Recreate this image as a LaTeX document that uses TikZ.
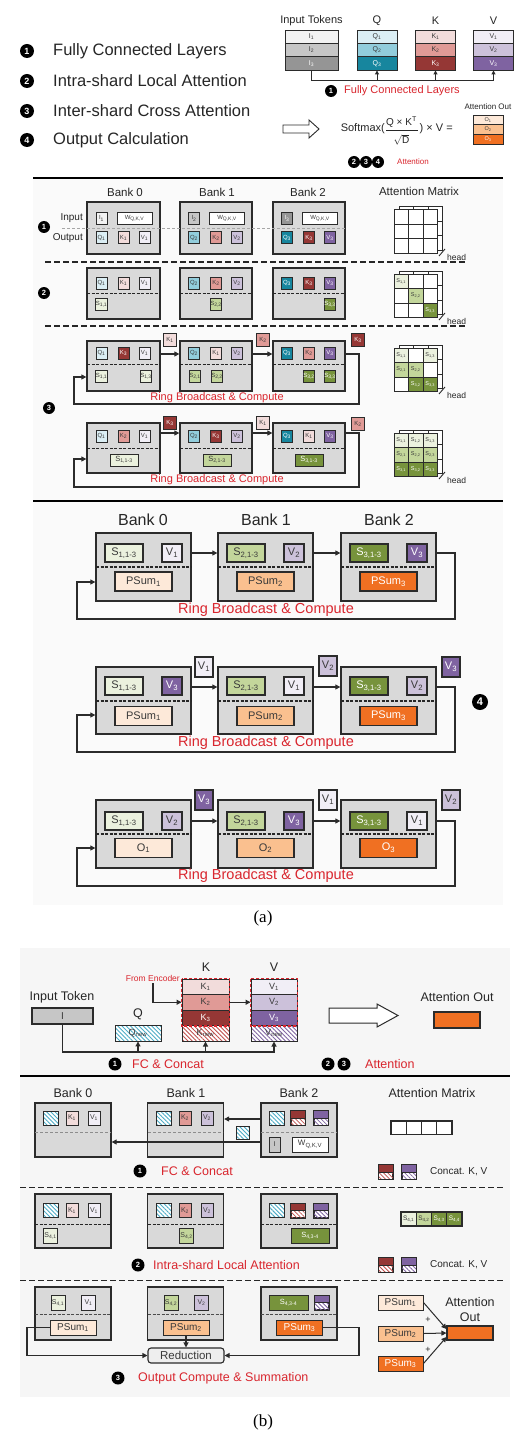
\documentclass[tikz,border=0pt]{standalone}
\usepackage{fontspec}
\usepackage{amsmath}
\setmainfont{Liberation Sans}
\newfontfamily\capfont{Liberation Serif}
\usetikzlibrary{arrows.meta,patterns.meta}
\newcommand\fsz[1]{\fontsize{#1}{#1}\selectfont}
\newcommand\sbs[1]{\textsubscript{#1}}
\definecolor{bdr}{HTML}{2B2B2B}
\definecolor{bankf}{HTML}{D9D9D9}
\definecolor{txtd}{HTML}{3A3A3A}
\definecolor{redt}{HTML}{D9262E}
\definecolor{iA}{HTML}{F2F2F2}
\definecolor{iB}{HTML}{C6C6C6}
\definecolor{iC}{HTML}{959595}
\definecolor{qA}{HTML}{DBEEF4}
\definecolor{qB}{HTML}{92CDDC}
\definecolor{qC}{HTML}{17869E}
\definecolor{kA}{HTML}{F2DCDB}
\definecolor{kB}{HTML}{E09A96}
\definecolor{kC}{HTML}{953735}
\definecolor{vA}{HTML}{F1EEF6}
\definecolor{vB}{HTML}{CCC1DA}
\definecolor{vC}{HTML}{7F63A1}
\definecolor{sA}{HTML}{EBF1DE}
\definecolor{sB}{HTML}{C3D69B}
\definecolor{sC}{HTML}{77933C}
\definecolor{pA}{HTML}{FDE9D9}
\definecolor{pB}{HTML}{FAC08F}
\definecolor{pC}{HTML}{F07022}
\definecolor{hq}{HTML}{4BACC6}
\definecolor{hk}{HTML}{C0504D}
\definecolor{hv}{HTML}{8064A2}
\definecolor{redf}{HTML}{EEEEEE}
\definecolor{bbg}{HTML}{F6F6F6}
\definecolor{abg}{HTML}{FAFAFA}
\tikzset{
  bank/.style={draw=bdr, fill=bankf, line width=1.3pt, inner sep=0pt},
  el/.style={draw=bdr, line width=1pt, minimum width=11pt, minimum height=12pt, inner sep=0pt, text=txtd, font=\fsz{6}},
  fk/.style={el, minimum width=13pt, minimum height=13pt},
  wel/.style={el, minimum width=28pt, font=\fsz{7.5}},
  bel/.style={el, line width=1.2pt, minimum width=38pt, minimum height=18pt, font=\fsz{11}},
  bv/.style={bel, minimum width=20pt},
  bp/.style={bel, minimum width=57pt, minimum height=19pt},
  fv/.style={bel, minimum width=18pt, minimum height=20pt},
  bk/.style={el, minimum width=12pt, minimum height=14pt, font=\fsz{7}},
  stk/.style={draw=bdr, line width=0.9pt, minimum height=13.33pt, inner sep=0pt, font=\fsz{7}, text=txtd},
  bstk/.style={draw=bdr, line width=0.9pt, minimum height=15.5pt, inner sep=0pt, font=\fsz{9}, text=txtd},
  cell/.style={draw=bdr, line width=1pt, fill=white, minimum width=14.5pt, minimum height=14.5pt, inner sep=0pt, font=\fsz{5.5}, text=txtd},
  numc/.style={circle, fill=black, text=white, inner sep=0pt, minimum size=14pt, font=\fsz{9}\bfseries},
  nums/.style={numc, minimum size=12pt, font=\fsz{7.5}\bfseries},
  arr/.style={draw=bdr, line width=1.1pt, -{Triangle[length=5pt,width=5pt]}},
  tarr/.style={draw=bdr, line width=0.9pt, -{Triangle[length=4pt,width=4pt]}},
  cline/.style={draw=bdr, line width=1.1pt},
  thicksep/.style={draw=black, line width=2.2pt},
  dsep/.style={draw=black!85, line width=1.2pt, dash pattern=on 6pt off 3pt},
  idash/.style={draw=black!85, line width=1pt, dash pattern=on 3pt off 1.5pt},
  gdash/.style={draw=black!35, line width=0.8pt, dash pattern=on 3pt off 2pt},
  redtxt/.style={text=redt, inner sep=0pt},
  txt/.style={inner sep=0pt, text=black!85},
  hatch/.style={draw=bdr, line width=1pt, inner sep=0pt, text=txtd, preaction={fill=white}, pattern={Lines[angle=-45,distance=3pt,line width=0.9pt]}, pattern color=#1},
}
\newcommand\amat[3]{%
  \foreach \ri in {0,1,2}{\foreach \ci in {0,1,2}{%
    \draw[draw=bdr, line width=1pt, fill=white] ({#2+5+\ci*14.5},{#3-3+\ri*14.5}) rectangle ++(14.5,14.5);}}%
  \foreach \ri in {0,1,2}{\foreach \ci in {0,1,2}{%
    \node[cell] (#1-\ri-\ci) at ({#2+7.25+\ci*14.5},{#3+7.25+\ri*14.5}) {};}}%
  \draw[draw=bdr, line width=0.9pt] ({#2+45},{#3+46}) -- ({#2+51},{#3+39});%
  \node[txt, anchor=west, font=\fsz{8.5}] (#1h) at ({#2+53},{#3+47.5}) {head};%
}
\newcommand\cicon[5]{%
  \node[draw=bdr, line width=1pt, fill=white, minimum width=14pt, minimum height=14pt, inner sep=0pt] (#1) at (#2,#3) {};
  \fill[#4] (#1.north west) rectangle (#1.east);
  \fill[pattern={Lines[angle=-45,distance=3pt,line width=0.8pt]}, pattern color=#5] (#1.west) rectangle (#1.south east);
  \draw[draw=bdr, line width=0.8pt] (#1.west) -- (#1.east);
  \draw[draw=bdr, line width=1pt] (#1.north west) rectangle (#1.south east);
}
\begin{document}
\begin{tikzpicture}[x=1pt,y=-1pt]
\useasboundingbox (0,0) rectangle (528,1447);
\fill[white] (0,0) rectangle (528,1447);
\fill[abg] (33,178) rectangle (503,905);
\fill[bbg] (20,948) rectangle (510,1397);

% ---------------- legend
\node[numc] (n1) at (27,51) {1};
\node[txt, anchor=west, font=\fsz{16.5}] (t1) at (53,51) {Fully Connected Layers};
\node[numc] (n2) at (27,81) {2};
\node[txt, anchor=west, font=\fsz{16.5}] (t2) at (53,81) {Intra-shard Local Attention};
\node[numc] (n3) at (27,111) {3};
\node[txt, anchor=west, font=\fsz{16.5}] (t3) at (53,111) {Inter-shard Cross Attention};
\node[numc] (n4) at (27,140) {4};
\node[txt, anchor=west, font=\fsz{16.5}] (t4) at (53,140) {Output Calculation};

% ---------------- top right
\node[txt, font=\fsz{11}] (hIT) at (311.5,21) {Input Tokens};
\node[txt, font=\fsz{11}] (hQ) at (377,21) {Q};
\node[txt, font=\fsz{11}] (hK) at (435.5,21) {K};
\node[txt, font=\fsz{11}] (hV) at (493.5,21) {V};
\node[stk, minimum width=53pt, fill=iA] (ti1) at (311.5,36.67) {I\sbs{1}};
\node[stk, minimum width=53pt, fill=iB] (ti2) at (311.5,50) {I\sbs{2}};
\node[stk, minimum width=53pt, fill=iC, text=white] (ti3) at (311.5,63.33) {I\sbs{3}};
\node[stk, minimum width=40pt, fill=qA] (tq1) at (377,36.67) {Q\sbs{1}};
\node[stk, minimum width=40pt, fill=qB] (tq2) at (377,50) {Q\sbs{2}};
\node[stk, minimum width=40pt, fill=qC, text=white] (tq3) at (377,63.33) {Q\sbs{3}};
\node[stk, minimum width=40pt, fill=kA] (tk1) at (435.5,36.67) {K\sbs{1}};
\node[stk, minimum width=40pt, fill=kB] (tk2) at (435.5,50) {K\sbs{2}};
\node[stk, minimum width=40pt, fill=kC, text=white] (tk3) at (435.5,63.33) {K\sbs{3}};
\node[stk, minimum width=40pt, fill=vA] (tv1) at (493.5,36.67) {V\sbs{1}};
\node[stk, minimum width=40pt, fill=vB] (tv2) at (493.5,50) {V\sbs{2}};
\node[stk, minimum width=40pt, fill=vC, text=white] (tv3) at (493.5,63.33) {V\sbs{3}};
\coordinate (tbus) at (0,80);
\draw[tarr] (ti3.south) |- (tv3.south |- tbus) -- (tv3.south);
\draw[tarr] (tq3.south |- tbus) -- (tq3.south);
\draw[tarr] (tk3.south |- tbus) -- (tk3.south);
\node[nums] (tn1) at (331,91) {1};
\node[redtxt, anchor=west, font=\fsz{11}] (tfc) at (344,91) {Fully Connected Layers};
\draw[draw=bdr, line width=0.9pt, fill=white] (283,125) -- (309,125) -- (309,120) -- (319,129) -- (309,138) -- (309,133) -- (283,133) -- cycle;
% formula built from separate parts
\node[txt, anchor=east, font=\fsz{11}] (fsm) at (385,129) {Softmax(};
\node[txt, font=\fsz{10}] (fnum) at (401.5,122) {Q × K\textsuperscript{T}};
\draw[draw=black!85, line width=0.7pt] (386,130.5) -- (418,130.5);
\node[txt, font=\fsz{10}] (fden) at (401.5,139.5) {$\sqrt{\text{D}}$};
\node[txt, anchor=west, font=\fsz{11}] (frest) at (419.5,129) {) × V =};
\node[txt, font=\fsz{8}] (tAO) at (488,107) {Attention Out};
\node[stk, minimum width=30pt, minimum height=9.67pt, fill=pA, font=\fsz{5.5}] (to1) at (488,119.8) {O\sbs{1}};
\node[stk, minimum width=30pt, minimum height=9.67pt, fill=pB, font=\fsz{5.5}] (to2) at (488,129.5) {O\sbs{2}};
\node[stk, minimum width=30pt, minimum height=9.67pt, fill=pC, text=white, font=\fsz{5.5}] (to3) at (488,139.2) {O\sbs{3}};
\node[nums, minimum size=12pt] (tn2) at (354,162) {2};
\node[nums, minimum size=12pt] (tn3) at (366,162) {3};
\node[nums, minimum size=12pt] (tn4) at (378,162) {4};
\node[redtxt, font=\fsz{8}] (tatt) at (413,162) {Attention};

\draw[thicksep] (33,178) -- (503,178);

% ---------------- (a) section 1
\node[txt, font=\fsz{11.5}] (hB0) at (125,192) {Bank 0};
\node[txt, font=\fsz{11.5}] (hB1) at (217,192) {Bank 1};
\node[txt, font=\fsz{11.5}] (hB2) at (308,192) {Bank 2};
\node[txt, font=\fsz{11.5}] (hAM) at (419,191) {Attention Matrix};
\node[bank, minimum width=73pt, minimum height=52pt] (s1b0) at (123.5,228) {};
\node[bank, minimum width=72pt, minimum height=52pt] (s1b1) at (216,228) {};
\node[bank, minimum width=72pt, minimum height=52pt] (s1b2) at (309,228) {};
\draw[gdash] (62,228) -- (345,228);
\node[txt, anchor=east, font=\fsz{10}] (lin) at (83,218) {Input};
\node[txt, anchor=east, font=\fsz{10}] (lout) at (83,238) {Output};
\node[nums] (s1n) at (44,227) {1};
\node[el, fill=iA] (s1i1) at (101.5,218.5) {I\sbs{1}};
\node[el, fill=white, minimum width=35pt] (s1w0) at (134.5,218.5) {W\sbs{Q,K,V}};
\node[el, fill=qA] (s1q1) at (101.5,238) {Q\sbs{1}};
\node[el, fill=kA] (s1k1) at (123.5,238) {K\sbs{1}};
\node[el, fill=vA] (s1v1) at (144.5,238) {V\sbs{1}};
\node[el, fill=iB] (s1i2) at (194,218.5) {I\sbs{2}};
\node[el, fill=white, minimum width=35pt] (s1w1) at (227,218.5) {W\sbs{Q,K,V}};
\node[el, fill=qB] (s1q2) at (194,238) {Q\sbs{2}};
\node[el, fill=kB] (s1k2) at (216,238) {K\sbs{2}};
\node[el, fill=vB] (s1v2) at (237,238) {V\sbs{2}};
\node[el, fill=iC, text=white] (s1i3) at (287,218.5) {I\sbs{3}};
\node[el, fill=white, minimum width=35pt] (s1w2) at (320,218.5) {W\sbs{Q,K,V}};
\node[el, fill=qC, text=white] (s1q3) at (287,238) {Q\sbs{3}};
\node[el, fill=kC, text=white] (s1k3) at (309,238) {K\sbs{3}};
\node[el, fill=vC, text=white] (s1v3) at (330,238) {V\sbs{3}};
\amat{m1}{394}{210}
\draw[dsep] (45,262) -- (465,262);

% ---------------- (a) section 2
\node[bank, minimum width=73pt, minimum height=51pt] (s2b0) at (123.5,293.5) {};
\node[bank, minimum width=72pt, minimum height=51pt] (s2b1) at (216,293.5) {};
\node[bank, minimum width=72pt, minimum height=51pt] (s2b2) at (309,293.5) {};
\draw[idash] (87,293) -- (160,293);
\draw[idash] (180,293) -- (252,293);
\draw[idash] (273,293) -- (345,293);
\node[nums] (s2n) at (44,293) {2};
\node[el, fill=qA] (s2q1) at (101.5,283) {Q\sbs{1}};
\node[el, fill=kA] (s2k1) at (123.5,283) {K\sbs{1}};
\node[el, fill=vA] (s2v1) at (144.5,283) {V\sbs{1}};
\node[el, fill=qB] (s2q2) at (194,283) {Q\sbs{2}};
\node[el, fill=kB] (s2k2) at (216,283) {K\sbs{2}};
\node[el, fill=vB] (s2v2) at (237,283) {V\sbs{2}};
\node[el, fill=qC, text=white] (s2q3) at (287,283) {Q\sbs{3}};
\node[el, fill=kC, text=white] (s2k3) at (309,283) {K\sbs{3}};
\node[el, fill=vC, text=white] (s2v3) at (330,283) {V\sbs{3}};
\node[el, fill=sA] (s2s11) at (101.5,304) {S\sbs{1,1}};
\node[el, fill=sB] (s2s22) at (216,304) {S\sbs{2,2}};
\node[el, fill=sC, text=white] (s2s33) at (330,304) {S\sbs{3,3}};
\amat{m2}{394}{274}
\foreach \ri/\ci/\cfill/\ctext/\clab in {0/0/sA/txtd/{S\sbs{1,1}},1/1/sB/txtd/{S\sbs{2,2}},2/2/sC/white/{S\sbs{3,3}}}
  \node[cell, fill=\cfill, text=\ctext] (m2c-\ri-\ci) at ({394+7.25+\ci*14.5},{274+7.25+\ri*14.5}) {\clab};
\draw[dsep] (45,326) -- (465,326);

% ---------------- (a) section 3, row A
\node[bank, minimum width=73pt, minimum height=50pt] (a3b0) at (123.5,366) {};
\node[bank, minimum width=72pt, minimum height=50pt] (a3b1) at (216,366) {};
\node[bank, minimum width=72pt, minimum height=50pt] (a3b2) at (309,366) {};
\draw[idash] (87,364) -- (160,364);
\draw[idash] (180,364) -- (252,364);
\draw[idash] (273,364) -- (345,364);
\node[el, fill=qA] (a3q1) at (101.5,353) {Q\sbs{1}};
\node[el, fill=kC, text=white] (a3k3) at (123.5,353) {K\sbs{3}};
\node[el, fill=vA] (a3v1) at (144.5,353) {V\sbs{1}};
\node[el, fill=qB] (a3q2) at (194,353) {Q\sbs{2}};
\node[el, fill=kA] (a3k1) at (216,353) {K\sbs{1}};
\node[el, fill=vB] (a3v2) at (237,353) {V\sbs{2}};
\node[el, fill=qC, text=white] (a3q3) at (287,353) {Q\sbs{3}};
\node[el, fill=kB] (a3k2) at (309,353) {K\sbs{2}};
\node[el, fill=vC, text=white] (a3v3) at (330,353) {V\sbs{3}};
\node[el, fill=sA] (a3s11) at (101.5,376) {S\sbs{1,1}};
\node[el, fill=sA] (a3s13) at (146,376) {S\sbs{1,3}};
\node[el, fill=sB] (a3s21) at (195,376) {S\sbs{2,1}};
\node[el, fill=sB] (a3s22) at (217,376) {S\sbs{2,2}};
\node[el, fill=sC, text=white] (a3s32) at (309,376) {S\sbs{3,2}};
\node[el, fill=sC, text=white] (a3s33) at (330,376) {S\sbs{3,3}};
\node[fk, fill=kA] (a3f1) at (170,340) {K\sbs{1}};
\node[fk, fill=kB] (a3f2) at (263,340) {K\sbs{2}};
\node[fk, fill=kC, text=white] (a3f3) at (358,340) {K\sbs{3}};
\draw[arr] (a3b0.east |- 0,354) -- (a3b1.west |- 0,354);
\draw[arr] (a3b1.east |- 0,354) -- (a3b2.west |- 0,354);
\draw[arr] (a3b2.east |- 0,354) -| (359,404) -| (74,377) -- (a3b0.west |- 0,377);
\node[redtxt, font=\fsz{11}] (a3r) at (217,397.5) {Ring Broadcast \& Compute};
\node[nums] (s3n) at (49,408) {3};
\amat{m3}{394}{348}
\foreach \ri/\ci/\cfill/\ctext/\clab in {0/0/sA/txtd/{S\sbs{1,1}},0/2/sA/txtd/{S\sbs{1,3}},1/0/sB/txtd/{S\sbs{2,1}},1/1/sB/txtd/{S\sbs{2,2}},2/1/sC/white/{S\sbs{3,2}},2/2/sC/white/{S\sbs{3,3}}}
  \node[cell, fill=\cfill, text=\ctext] (m3c-\ri-\ci) at ({394+7.25+\ci*14.5},{348+7.25+\ri*14.5}) {\clab};

% ---------------- (a) section 3, row B
\node[bank, minimum width=73pt, minimum height=50pt] (b3b0) at (123.5,448) {};
\node[bank, minimum width=72pt, minimum height=50pt] (b3b1) at (216,448) {};
\node[bank, minimum width=72pt, minimum height=50pt] (b3b2) at (309,448) {};
\draw[idash] (87,448) -- (160,448);
\draw[idash] (180,448) -- (252,448);
\draw[idash] (273,448) -- (345,448);
\node[el, fill=qA] (b3q1) at (101.5,436) {Q\sbs{1}};
\node[el, fill=kB] (b3k2) at (123.5,436) {K\sbs{2}};
\node[el, fill=vA] (b3v1) at (144.5,436) {V\sbs{1}};
\node[el, fill=qB] (b3q2) at (194,436) {Q\sbs{2}};
\node[el, fill=kC, text=white] (b3k3) at (216,436) {K\sbs{3}};
\node[el, fill=vB] (b3v2) at (237,436) {V\sbs{2}};
\node[el, fill=qC, text=white] (b3q3) at (287,436) {Q\sbs{3}};
\node[el, fill=kA] (b3k1) at (309,436) {K\sbs{1}};
\node[el, fill=vC, text=white] (b3v3) at (330,436) {V\sbs{3}};
\node[wel, fill=sA] (b3s1) at (124,460) {S\sbs{1,1-3}};
\node[wel, fill=sB] (b3s2) at (217,460) {S\sbs{2,1-3}};
\node[wel, fill=sC, text=white] (b3s3) at (309,460) {S\sbs{3,1-3}};
\node[fk, fill=kC, text=white] (b3f1) at (170,423) {K\sbs{3}};
\node[fk, fill=kA] (b3f2) at (263,423) {K\sbs{1}};
\node[fk, fill=kB] (b3f3) at (358,424) {K\sbs{2}};
\draw[arr] (b3b0.east |- 0,433) -- (b3b1.west |- 0,433);
\draw[arr] (b3b1.east |- 0,433) -- (b3b2.west |- 0,433);
\draw[arr] (b3b2.east |- 0,433) -| (359,487) -| (74,459) -- (b3b0.west |- 0,459);
\node[redtxt, font=\fsz{11}] (b3r) at (217,480) {Ring Broadcast \& Compute};
\amat{m4}{394}{433}
\foreach \ri/\ci/\cfill/\ctext/\clab in {0/0/sA/txtd/{S\sbs{1,1}},0/1/sA/txtd/{S\sbs{1,2}},0/2/sA/txtd/{S\sbs{1,3}},1/0/sB/txtd/{S\sbs{2,1}},1/1/sB/txtd/{S\sbs{2,2}},1/2/sB/txtd/{S\sbs{2,3}},2/0/sC/white/{S\sbs{3,1}},2/1/sC/white/{S\sbs{3,2}},2/2/sC/white/{S\sbs{3,3}}}
  \node[cell, fill=\cfill, text=\ctext] (m4c-\ri-\ci) at ({394+7.25+\ci*14.5},{433+7.25+\ri*14.5}) {\clab};

\draw[thicksep] (33,501) -- (503,501);

% ---------------- (a) section 4, block A
\node[txt, font=\fsz{16}] (gB0) at (143,520) {Bank 0};
\node[txt, font=\fsz{16}] (gB1) at (266,520) {Bank 1};
\node[txt, font=\fsz{16}] (gB2) at (389,520) {Bank 2};
\node[bank, minimum width=95pt, minimum height=68pt] (g1b0) at (143.5,567) {};
\node[bank, minimum width=95pt, minimum height=68pt] (g1b1) at (265.5,567) {};
\node[bank, minimum width=95pt, minimum height=68pt] (g1b2) at (388.5,567) {};
\draw[idash, line width=1.2pt] (96,567) -- (191,567);
\draw[idash, line width=1.2pt] (218,567) -- (313,567);
\draw[idash, line width=1.2pt] (341,567) -- (436,567);
\node[bel, fill=sA] (g1s1) at (124,553) {S\sbs{1,1-3}};
\node[bv, fill=vA] (g1v1) at (172,553) {V\sbs{1}};
\node[bp, fill=pA] (g1p1) at (143.5,581.5) {PSum\sbs{1}};
\node[bel, fill=sB] (g1s2) at (246,553) {S\sbs{2,1-3}};
\node[bv, fill=vB] (g1v2) at (294,553) {V\sbs{2}};
\node[bp, fill=pB] (g1p2) at (265.5,581.5) {PSum\sbs{2}};
\node[bel, fill=sC, text=white] (g1s3) at (369,553) {S\sbs{3,1-3}};
\node[bv, fill=vC, text=white] (g1v3) at (417,553) {V\sbs{3}};
\node[bp, fill=pC, text=white] (g1p3) at (388.5,581.5) {PSum\sbs{3}};
\draw[arr] (g1b0.east |- 0,553) -- (g1b1.west |- 0,553);
\draw[arr] (g1b1.east |- 0,553) -- (g1b2.west |- 0,553);
\draw[arr] (g1b2.east |- 0,553) -| (455,619) -| (77,582) -- (g1b0.west |- 0,582);
\node[redtxt, font=\fsz{14.5}] (g1r) at (266,610) {Ring Broadcast \& Compute};

% ---------------- block B
\node[bank, minimum width=95pt, minimum height=67pt] (g2b0) at (143.5,700.5) {};
\node[bank, minimum width=95pt, minimum height=67pt] (g2b1) at (265.5,700.5) {};
\node[bank, minimum width=95pt, minimum height=67pt] (g2b2) at (388.5,700.5) {};
\draw[idash, line width=1.2pt] (96,701) -- (191,701);
\draw[idash, line width=1.2pt] (218,701) -- (313,701);
\draw[idash, line width=1.2pt] (341,701) -- (436,701);
\node[bel, fill=sA] (g2s1) at (124,686) {S\sbs{1,1-3}};
\node[bv, fill=vC, text=white] (g2v1) at (172,686) {V\sbs{3}};
\node[bp, fill=pA] (g2p1) at (143.5,716) {PSum\sbs{1}};
\node[bel, fill=sB] (g2s2) at (246,686) {S\sbs{2,1-3}};
\node[bv, fill=vA] (g2v2) at (294,686) {V\sbs{1}};
\node[bp, fill=pB] (g2p2) at (265.5,716) {PSum\sbs{2}};
\node[bel, fill=sC, text=white] (g2s3) at (369,686) {S\sbs{3,1-3}};
\node[bv, fill=vB] (g2v3) at (417,686) {V\sbs{2}};
\node[bp, fill=pC, text=white] (g2p3) at (388.5,716) {PSum\sbs{3}};
\node[fv, fill=vA] (g2f1) at (204,667) {V\sbs{1}};
\node[fv, fill=vB] (g2f2) at (328,666) {V\sbs{2}};
\node[fv, fill=vC, text=white] (g2f3) at (451,667) {V\sbs{3}};
\draw[arr] (g2b0.east |- 0,687) -- (g2b1.west |- 0,687);
\draw[arr] (g2b1.east |- 0,687) -- (g2b2.west |- 0,687);
\draw[arr] (g2b2.east |- 0,687) -| (455,752) -| (77,715) -- (g2b0.west |- 0,715);
\node[redtxt, font=\fsz{14.5}] (g2r) at (266,743) {Ring Broadcast \& Compute};
\node[numc, minimum size=16pt, font=\fsz{11}\bfseries] (g2n) at (480,702) {4};

% ---------------- block C
\node[bank, minimum width=95pt, minimum height=68pt] (g3b0) at (143.5,834) {};
\node[bank, minimum width=95pt, minimum height=68pt] (g3b1) at (265.5,834) {};
\node[bank, minimum width=95pt, minimum height=68pt] (g3b2) at (388.5,834) {};
\draw[idash, line width=1.2pt] (96,834) -- (191,834);
\draw[idash, line width=1.2pt] (218,834) -- (313,834);
\draw[idash, line width=1.2pt] (341,834) -- (436,834);
\node[bel, fill=sA] (g3s1) at (124,821) {S\sbs{1,1-3}};
\node[bv, fill=vB] (g3v1) at (172,821) {V\sbs{2}};
\node[bp, fill=pA] (g3p1) at (143.5,848) {O\sbs{1}};
\node[bel, fill=sB] (g3s2) at (246,821) {S\sbs{2,1-3}};
\node[bv, fill=vC, text=white] (g3v2) at (294,821) {V\sbs{3}};
\node[bp, fill=pB] (g3p2) at (265.5,848) {O\sbs{2}};
\node[bel, fill=sC, text=white] (g3s3) at (369,821) {S\sbs{3,1-3}};
\node[bv, fill=vA] (g3v3) at (417,821) {V\sbs{1}};
\node[bp, fill=pC, text=white] (g3p3) at (388.5,848) {O\sbs{3}};
\node[fv, fill=vC, text=white] (g3f1) at (204,800) {V\sbs{3}};
\node[fv, fill=vA] (g3f2) at (328,800) {V\sbs{1}};
\node[fv, fill=vB] (g3f3) at (451,800) {V\sbs{2}};
\draw[arr] (g3b0.east |- 0,821) -- (g3b1.west |- 0,821);
\draw[arr] (g3b1.east |- 0,821) -- (g3b2.west |- 0,821);
\draw[arr] (g3b2.east |- 0,821) -| (455,886) -| (77,848) -- (g3b0.west |- 0,848);
\node[redtxt, font=\fsz{14.5}] (g3r) at (266,876) {Ring Broadcast \& Compute};

\node[inner sep=0pt, font=\capfont\fsz{17}] (capa) at (263,918) {(a)};

% ================= (b) top
\node[txt, font=\fsz{12.5}] (bIT) at (62,997) {Input Token};
\node[draw=bdr, line width=1.1pt, fill=iB, minimum width=61pt, minimum height=16pt, inner sep=0pt, font=\fsz{10}, text=txtd] (bI) at (62.5,1016) {I};
\node[txt, font=\fsz{12.5}] (bQl) at (138,1014) {Q};
\node[hatch=hq, minimum width=46pt, minimum height=16pt, font=\fsz{9}] (bQn) at (138,1033) {Q\sbs{new}};
\node[txt, font=\fsz{12.5}] (bKl) at (206,967) {K};
\node[txt, font=\fsz{12.5}] (bVl) at (274,967) {V};
\node[bstk, minimum width=47pt, fill=kA] (bK1) at (205.5,986.75) {K\sbs{1}};
\node[bstk, minimum width=47pt, fill=kB] (bK2) at (205.5,1002.25) {K\sbs{2}};
\node[bstk, minimum width=47pt, fill=kC, text=white] (bK3) at (205.5,1017.75) {K\sbs{3}};
\node[bstk, minimum width=47pt, hatch=hk] (bKn) at (205.5,1033.25) {K\sbs{new}};
\node[bstk, minimum width=46pt, fill=vA] (bV1) at (274,986.75) {V\sbs{1}};
\node[bstk, minimum width=46pt, fill=vB] (bV2) at (274,1002.25) {V\sbs{2}};
\node[bstk, minimum width=46pt, fill=vC, text=white] (bV3) at (274,1017.75) {V\sbs{3}};
\node[bstk, minimum width=46pt, hatch=hv] (bVn) at (274,1033.25) {V\sbs{new}};
\draw[draw=redt, line width=1.3pt, dash pattern=on 3pt off 2pt] (bK1.north west) rectangle (bK3.south east);
\draw[draw=redt, line width=1.3pt, dash pattern=on 3pt off 2pt] (bV1.north west) rectangle (bV3.south east);
\node[redtxt, anchor=east, font=\fsz{8.5}] (bFE) at (180,978) {From Encoder};
\coordinate (feS) at (153,983);
\draw[arr] (feS) |- (bK2.west);
\draw[arr] (bK2.east) -- (bV2.west);
\coordinate (bbus) at (0,1052);
\draw[arr] (bI.south) |- (bVn.south |- bbus) -- (bVn.south);
\draw[arr] (bQn.south |- bbus) -- (bQn.south);
\draw[arr] (bKn.south |- bbus) -- (bKn.south);
\node[nums, minimum size=13pt] (bn1) at (115,1064) {1};
\node[redtxt, anchor=west, font=\fsz{12.5}] (bfc) at (132,1064) {FC \& Concat};
\draw[draw=bdr, line width=1pt, fill=white] (329,1008) -- (377,1008) -- (377,1004) -- (398,1015.5) -- (377,1027) -- (377,1023) -- (329,1023) -- cycle;
\node[txt, font=\fsz{12.5}] (bAO) at (457,997) {Attention Out};
\node[draw=bdr, line width=1.1pt, fill=pC, minimum width=46pt, minimum height=16pt, inner sep=0pt] (bAOb) at (457,1020) {};
\node[nums, minimum size=13pt] (bn2) at (328,1064) {2};
\node[nums, minimum size=13pt] (bn3) at (344,1064) {3};
\node[redtxt, anchor=west, font=\fsz{12.5}] (batt) at (365,1064) {Attention};
\draw[draw=black, line width=1.3pt] (20,1076) -- (510,1076);

% ---------------- (b) section 1
\node[txt, font=\fsz{12.5}] (cB0) at (73,1093) {Bank 0};
\node[txt, font=\fsz{12.5}] (cB1) at (186,1093) {Bank 1};
\node[txt, font=\fsz{12.5}] (cB2) at (299,1093) {Bank 2};
\node[txt, font=\fsz{12.5}] (cAM) at (432,1093) {Attention Matrix};
\node[bank, minimum width=76pt, minimum height=54pt] (c1b0) at (73,1130) {};
\node[bank, minimum width=76pt, minimum height=54pt] (c1b1) at (185.5,1130) {};
\node[bank, minimum width=76pt, minimum height=54pt] (c1b2) at (299,1130) {};
\draw[gdash, draw=black!45, line width=1pt] (35,1132) -- (111,1132);
\draw[gdash, draw=black!45, line width=1pt] (148,1132) -- (223,1132);
\draw[gdash, draw=black!45, line width=1pt] (261,1132) -- (337,1132);
\node[hatch=hq, minimum width=15pt, minimum height=14pt] (c1h0) at (51,1118) {};
\node[bk, fill=kA] (c1k1) at (72,1118) {K\sbs{1}};
\node[bk, fill=vA] (c1v1) at (94,1118) {V\sbs{1}};
\node[hatch=hq, minimum width=15pt, minimum height=14pt] (c1h1) at (164,1118) {};
\node[bk, fill=kB] (c1k2) at (185,1118) {K\sbs{2}};
\node[bk, fill=vB] (c1v2) at (207,1118) {V\sbs{2}};
\node[hatch=hq, minimum width=15pt, minimum height=14pt] (c1h2) at (277,1118) {};
\cicon{c1ck}{298}{1118}{kC}{hk}
\cicon{c1cv}{321}{1118}{vC}{hv}
\node[el, fill=iB, minimum width=11pt, minimum height=15pt, font=\fsz{7}] (c1i) at (274.5,1144.5) {I};
\node[el, fill=white, minimum width=36pt, minimum height=15pt, font=\fsz{8}] (c1w) at (310,1144.5) {W\sbs{Q,K,V}};
\node[hatch=hq, minimum width=13pt, minimum height=13pt] (c1f) at (243,1133) {};
\draw[arr] (c1b2.west |- 0,1119) -- (c1b1.east |- 0,1119);
\draw[arr] (c1b2.west |- 0,1142) -- (c1b0.east |- 0,1142);
\foreach \ci in {0,1,2,3}
  \node[draw=bdr, line width=1.1pt, fill=white, minimum width=15.25pt, minimum height=13.5pt, inner sep=0pt] (cm1-\ci) at ({398.6+\ci*15.25},1127.75) {};
\node[nums, minimum size=13pt] (c1n) at (140,1171) {1};
\node[redtxt, anchor=west, font=\fsz{12.5}] (c1t) at (161,1171) {FC \& Concat};
\cicon{c1lk}{385.5}{1172}{kC}{hk}
\cicon{c1lv}{409}{1172}{vC}{hv}
\node[txt, anchor=west, font=\fsz{10}] (c1lt) at (430,1172) {Concat. K, V};
\draw[dsep, line width=1pt] (20,1187) -- (505,1187);

% ---------------- (b) section 2
\node[bank, minimum width=76pt, minimum height=54pt] (c2b0) at (73,1221) {};
\node[bank, minimum width=76pt, minimum height=54pt] (c2b1) at (185.5,1221) {};
\node[bank, minimum width=76pt, minimum height=54pt] (c2b2) at (299,1221) {};
\draw[idash] (35,1224) -- (111,1224);
\draw[idash] (148,1224) -- (223,1224);
\draw[idash] (261,1224) -- (337,1224);
\node[hatch=hq, minimum width=15pt, minimum height=14pt] (c2h0) at (51,1210.5) {};
\node[bk, fill=kA] (c2k1) at (72,1210.5) {K\sbs{1}};
\node[bk, fill=vA] (c2v1) at (94,1210.5) {V\sbs{1}};
\node[hatch=hq, minimum width=15pt, minimum height=14pt] (c2h1) at (164,1210.5) {};
\node[bk, fill=kB] (c2k2) at (185,1210.5) {K\sbs{2}};
\node[bk, fill=vB] (c2v2) at (207,1210.5) {V\sbs{2}};
\node[hatch=hq, minimum width=15pt, minimum height=14pt] (c2h2) at (277,1210.5) {};
\cicon{c2ck}{298}{1210.5}{kC}{hk}
\cicon{c2cv}{321}{1210.5}{vC}{hv}
\node[el, fill=sA, minimum width=14pt, minimum height=15pt, font=\fsz{7}] (c2s1) at (50.5,1235.5) {S\sbs{4,1}};
\node[el, fill=sB, minimum width=14pt, minimum height=15pt, font=\fsz{7}] (c2s2) at (186.5,1235.5) {S\sbs{4,2}};
\node[el, fill=sC, text=white, minimum width=38pt, minimum height=15pt, font=\fsz{7.5}] (c2s3) at (310,1235.5) {S\sbs{4,3-4}};
\foreach \ci/\cfill/\ctext in {0/sA/txtd,1/sB/txtd,2/sC/white,3/sC/white}
  \node[draw=bdr, line width=1.1pt, fill=\cfill, text=\ctext, minimum width=15.25pt, minimum height=14pt, inner sep=0pt, font=\fsz{6.5}] (cm2-\ci) at ({408.6+\ci*15.25},1219) {S\sbs{4,\the\numexpr\ci+1\relax}};
\node[nums, minimum size=13pt] (c2n) at (138,1265) {2};
\node[redtxt, anchor=west, font=\fsz{12.5}] (c2t) at (153,1265) {Intra-shard Local Attention};
\cicon{c2lk}{385.5}{1265}{kC}{hk}
\cicon{c2lv}{409}{1265}{vC}{hv}
\node[txt, anchor=west, font=\fsz{10}] (c2lt) at (430,1265) {Concat. K, V};
\draw[dsep, line width=1pt] (20,1280) -- (505,1280);

% ---------------- (b) section 3
\node[bank, minimum width=76pt, minimum height=53pt] (c3b0) at (73,1313.5) {};
\node[bank, minimum width=76pt, minimum height=53pt] (c3b1) at (185.5,1313.5) {};
\node[bank, minimum width=76pt, minimum height=53pt] (c3b2) at (299,1313.5) {};
\draw[idash, draw=black!70] (35,1314) -- (111,1314);
\draw[idash, draw=black!70] (148,1314) -- (223,1314);
\draw[idash, draw=black!70] (261,1314) -- (337,1314);
\node[el, fill=sA, minimum width=14pt, minimum height=15pt, font=\fsz{7}] (c3s1) at (58,1302.5) {S\sbs{4,1}};
\node[el, fill=vA, minimum width=14pt, minimum height=15pt, font=\fsz{7}] (c3v1) at (88.5,1302.5) {V\sbs{1}};
\node[el, fill=sB, minimum width=14pt, minimum height=15pt, font=\fsz{7}] (c3s2) at (171,1302.5) {S\sbs{4,2}};
\node[el, fill=vB, minimum width=14pt, minimum height=15pt, font=\fsz{7}] (c3v2) at (201.5,1302.5) {V\sbs{2}};
\node[el, fill=sC, text=white, minimum width=39pt, minimum height=15pt, font=\fsz{7.5}] (c3s3) at (288.5,1302.5) {S\sbs{4,3-4}};
\cicon{c3cv}{321.5}{1302.5}{vC}{hv}
\node[el, fill=pA, minimum width=46pt, minimum height=15pt, font=\fsz{10}] (c3p1) at (73,1327.5) {PSum\sbs{1}};
\node[el, fill=pB, minimum width=46pt, minimum height=15pt, font=\fsz{10}] (c3p2) at (186,1327.5) {PSum\sbs{2}};
\node[el, fill=pC, text=white, minimum width=46pt, minimum height=15pt, font=\fsz{10}] (c3p3) at (299.5,1327.5) {PSum\sbs{3}};
\node[draw=bdr, line width=1.1pt, fill=redf, rounded corners=3pt, minimum width=76pt, minimum height=15pt, inner sep=0pt, font=\fsz{11.5}, text=txtd] (cred) at (186,1355.5) {Reduction};
\coordinate (crl) at (27,1355.5);
\coordinate (crr) at (359,1355.5);
\draw[arr] (c3p1.west) -| (crl) -- (cred.west);
\draw[arr] (c3p2.south) -- (cred.north);
\draw[arr] (c3p3.east) -| (crr) -- (cred.east);
\node[nums, minimum size=13pt] (c3n) at (118,1378) {3};
\node[redtxt, anchor=west, font=\fsz{12.5}] (c3t) at (138,1378) {Output Compute \& Summation};
\node[el, fill=pA, minimum width=45pt, minimum height=15pt, font=\fsz{10}] (rp1) at (400.5,1302.5) {PSum\sbs{1}};
\node[el, fill=pB, minimum width=45pt, minimum height=15pt, font=\fsz{10}] (rp2) at (400.5,1333.5) {PSum\sbs{2}};
\node[el, fill=pC, text=white, minimum width=45pt, minimum height=15pt, font=\fsz{10}] (rp3) at (400.5,1363.5) {PSum\sbs{3}};
\node[draw=bdr, line width=1.1pt, fill=pC, minimum width=46pt, minimum height=14pt, inner sep=0pt] (ratt) at (470,1333) {};
\node[txt, font=\fsz{12.5}] (ratt1) at (470,1302) {Attention};
\node[txt, font=\fsz{12.5}] (ratt2) at (470,1317) {Out};
\draw[arr, line width=1pt] (rp1.east) -- ([yshift=4pt]ratt.west);
\draw[arr, line width=1pt] (rp2.east) -- (ratt.west);
\draw[arr, line width=1pt] (rp3.east) -- ([yshift=-4pt]ratt.west);
\node[txt, font=\fsz{9}] (rplus1) at (428,1320) {+};
\node[txt, font=\fsz{9}] (rplus2) at (428,1350) {+};

\node[inner sep=0pt, font=\capfont\fsz{17}] (capb) at (263,1422) {(b)};
\end{tikzpicture}
\end{document}
